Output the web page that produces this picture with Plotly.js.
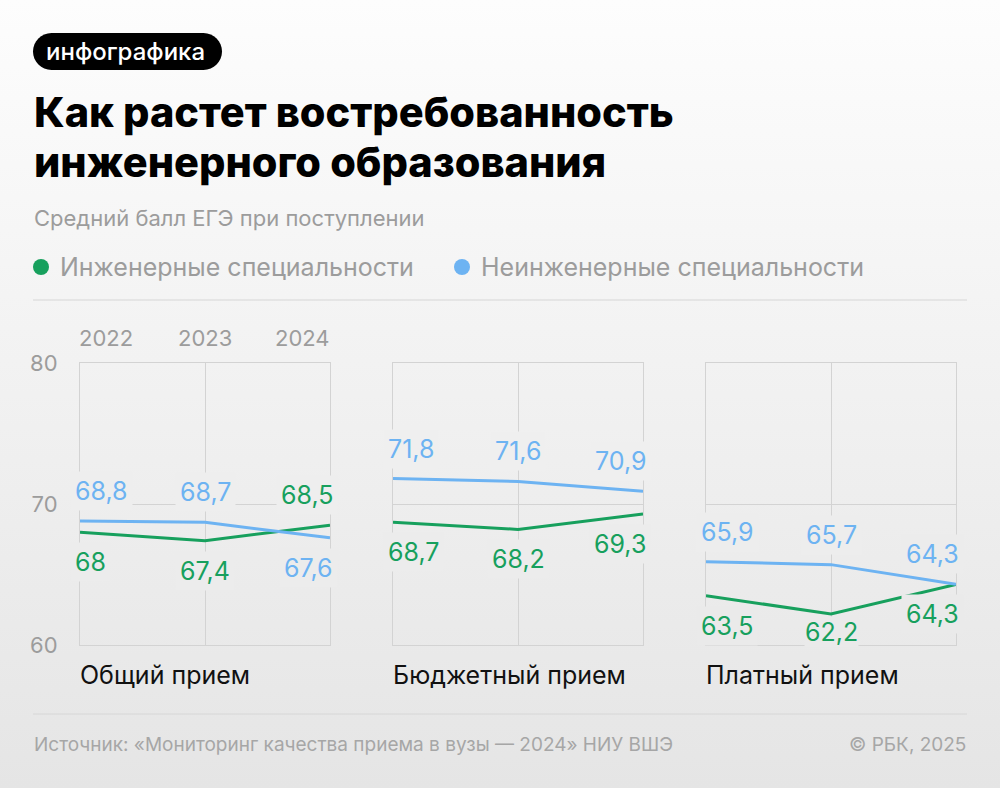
<!DOCTYPE html>
<html>
<head>
<meta charset="utf-8">
<script src="https://cdn.plot.ly/plotly-3.0.1.min.js"></script>
<style>
html,body{margin:0;padding:0;}
body{width:1000px;height:788px;background:linear-gradient(180deg,#fdfdfd 0px,#e5e5e5 788px);}
#chart{width:1000px;height:788px;}
</style>
</head>
<body>
<div id="chart"></div>
<script>
// ---- data ----
const years = ['2022', '2023', '2024'];
const panelNames = ['Общий прием', 'Бюджетный прием', 'Платный прием'];
const engTotal = [68, 67.4, 68.5];
const nonEngTotal = [68.8, 68.7, 67.6];
const engBudget = [68.7, 68.2, 69.3];
const nonEngBudget = [71.8, 71.6, 70.9];
const engPaid = [63.5, 62.2, 64.3];
const nonEngPaid = [65.9, 65.7, 64.3];
const yTicks = [60, 70, 80];
const seriesNames = ['Инженерные специальности', 'Неинженерные специальности'];
const tagText = 'инфографика';
const titleLines = ['Как растет востребованность', 'инженерного образования'];
const subtitleText = 'Средний балл ЕГЭ при поступлении';
const sourceText = 'Источник: «Мониторинг качества приема в вузы — 2024» НИУ ВШЭ';
const creditText = '© РБК, 2025';

// ---- styling ----
const W = 1000, H = 788;
const px = x => x / W;
const py = y => 1 - y / H;
const GREEN = '#17a05d';
const BLUE = '#6db3f2';
const GRID = '#d3d3d3';
const GREY = '#9c9c9c';
const FONT = 'Inter, "Noto Sans", sans-serif';
const TOP_PX = 363, BOT_PX = 645, YMIN = 60, YMAX = 80;
const PX_PER_UNIT = (BOT_PX - TOP_PX) / (YMAX - YMIN);

// background colour at a given pixel row (matches the CSS gradient)
function bgAt(yPx) {
  const t = Math.max(0, Math.min(1, yPx / H));
  const c = Math.round(0xfd + (0xe5 - 0xfd) * t);
  return 'rgb(' + c + ',' + c + ',' + c + ')';
}

const eng = [engTotal, engBudget, engPaid];
const nonEng = [nonEngTotal, nonEngBudget, nonEngPaid];
const domainsPx = [[80, 330], [393, 643], [706, 956]];
const yDomain = [py(BOT_PX), py(TOP_PX)];

const fmt = v => String(v).replace('.', ',');

const traces = [];
const annotations = [];
const layout = {
  width: W, height: H,
  margin: {l: 0, r: 0, t: 0, b: 0},
  paper_bgcolor: 'rgba(0,0,0,0)',
  plot_bgcolor: 'rgba(0,0,0,0)',
  showlegend: false,
  font: {family: FONT},
  shapes: [],
  annotations: annotations
};

for (let p = 0; p < 3; p++) {
  const suffix = p === 0 ? '' : String(p + 1);
  const xa = 'x' + suffix, ya = 'y' + suffix;
  layout['xaxis' + suffix] = {
    domain: [px(domainsPx[p][0]), px(domainsPx[p][1])],
    anchor: ya,
    type: 'category',
    categoryorder: 'array', categoryarray: years,
    range: [0, 2],
    showgrid: true, gridcolor: GRID, gridwidth: 1,
    showline: true, mirror: true, linecolor: GRID, linewidth: 1,
    showticklabels: false, ticks: '', zeroline: false, fixedrange: true
  };
  layout['yaxis' + suffix] = {
    domain: yDomain,
    anchor: xa,
    range: [YMIN, YMAX],
    tickvals: yTicks,
    ticktext: yTicks.map(String),
    showgrid: true, gridcolor: GRID, gridwidth: 1,
    showline: true, mirror: true, linecolor: GRID, linewidth: 1,
    showticklabels: p === 0,
    ticks: '', ticklabelstandoff: 17,
    tickfont: {family: FONT, size: 22, color: GREY},
    zeroline: false, fixedrange: true
  };
  traces.push({
    x: years, y: eng[p], xaxis: xa, yaxis: ya, type: 'scatter', mode: 'lines',
    name: seriesNames[0], line: {color: GREEN, width: 3}, hoverinfo: 'skip'
  });
  traces.push({
    x: years, y: nonEng[p], xaxis: xa, yaxis: ya, type: 'scatter', mode: 'lines',
    name: seriesNames[1], line: {color: BLUE, width: 3}, hoverinfo: 'skip'
  });
  // value labels (x given as category serial number)
  const anchors = ['left', 'center', 'right'];
  const xshifts = [-10, 0, 8];
  for (let i = 0; i < years.length; i++) {
    const blueAbove = nonEng[p][i] >= eng[p][i];
    const pairs = [[eng[p][i], GREEN, !blueAbove], [nonEng[p][i], BLUE, blueAbove]];
    pairs.forEach(([v, c, above]) => {
      let shift, pad = 4;
      if (above) shift = 30;
      else {
        const room = (v - YMIN) * PX_PER_UNIT - 13;
        if (room < 30) { shift = -room; pad = 0; } else shift = -30;
      }
      const yPx = BOT_PX - (v - YMIN) * PX_PER_UNIT - shift;
      annotations.push({
        xref: xa, yref: ya, x: i, y: v, text: fmt(v), showarrow: false,
        xanchor: anchors[i], yanchor: 'middle', xshift: xshifts[i] + (pad === 0 ? (i === 0 ? 4 : (i === 2 ? -4 : 0)) : 0), yshift: shift,
        font: {family: FONT, size: 25, color: c}, bgcolor: bgAt(yPx), borderpad: pad
      });
    });
  }
  // panel name
  annotations.push({
    xref: 'paper', yref: 'paper', x: px(domainsPx[p][0] - 2), y: py(675), text: panelNames[p],
    showarrow: false, xanchor: 'left', yanchor: 'middle',
    font: {family: FONT, size: 25, color: '#111111'}
  });
}

// year labels on top of first panel
const yearAnchors = ['left', 'center', 'right'];
years.forEach((yr, i) => {
  annotations.push({
    xref: 'x', yref: 'paper', x: i, y: py(338), text: yr, showarrow: false,
    xanchor: yearAnchors[i], yanchor: 'middle', xshift: i === 0 ? -3 : (i === 2 ? 2 : 0),
    font: {family: FONT, size: 22, color: GREY}
  });
});

// tag pill
(function () {
  const x0 = 33, x1 = 222, y0 = 33, y1 = 70, r = 18.5, k = 0.5523 * r;
  const P = (x, y) => px(x) + ',' + py(y);
  const path = 'M ' + P(x0 + r, y0) + ' L ' + P(x1 - r, y0) +
    ' C ' + P(x1 - r + k, y0) + ' ' + P(x1, y0 + r - k) + ' ' + P(x1, y0 + r) +
    ' C ' + P(x1, y1 - r + k) + ' ' + P(x1 - r + k, y1) + ' ' + P(x1 - r, y1) +
    ' L ' + P(x0 + r, y1) +
    ' C ' + P(x0 + r - k, y1) + ' ' + P(x0, y1 - r + k) + ' ' + P(x0, y1 - r) +
    ' C ' + P(x0, y0 + r - k) + ' ' + P(x0 + r - k, y0) + ' ' + P(x0 + r, y0) + ' Z';
  layout.shapes.push({type: 'path', xref: 'paper', yref: 'paper', path: path, fillcolor: '#000000', line: {width: 0}});
})();
annotations.push({
  xref: 'paper', yref: 'paper', x: px(125), y: py(51), text: tagText, showarrow: false,
  xanchor: 'center', yanchor: 'middle', font: {family: FONT, size: 24, color: '#ffffff', weight: 500}
});

// title
titleLines.forEach((t, i) => {
  annotations.push({
    xref: 'paper', yref: 'paper', x: px(32), y: py(112 + i * 50), text: t, showarrow: false,
    xanchor: 'left', yanchor: 'middle', font: {family: FONT, size: 41.5, color: '#000000', weight: 800}
  });
});
// subtitle
annotations.push({
  xref: 'paper', yref: 'paper', x: px(32), y: py(218), text: subtitleText, showarrow: false,
  xanchor: 'left', yanchor: 'middle', font: {family: FONT, size: 22, color: GREY}
});
// legend
const legendX = [[41, 58], [462, 479]];
[GREEN, BLUE].forEach((c, i) => {
  layout.shapes.push({
    type: 'circle', xref: 'paper', yref: 'paper',
    x0: px(legendX[i][0] - 8), x1: px(legendX[i][0] + 8), y0: py(267 + 8), y1: py(267 - 8),
    fillcolor: c, line: {width: 0}
  });
  annotations.push({
    xref: 'paper', yref: 'paper', x: px(legendX[i][1]), y: py(267), text: seriesNames[i], showarrow: false,
    xanchor: 'left', yanchor: 'middle', font: {family: FONT, size: 25, color: GREY}
  });
});
// separators
[300, 714].forEach(y => {
  layout.shapes.push({type: 'line', xref: 'paper', yref: 'paper', x0: px(33), x1: px(967), y0: py(y), y1: py(y), line: {color: '#d6d6d6', width: 1}});
});
// footer
annotations.push({
  xref: 'paper', yref: 'paper', x: px(32), y: py(744), text: sourceText, showarrow: false,
  xanchor: 'left', yanchor: 'middle', font: {family: FONT, size: 19, color: '#a6a6a6'}
});
annotations.push({
  xref: 'paper', yref: 'paper', x: px(968), y: py(744), text: creditText, showarrow: false,
  xanchor: 'right', yanchor: 'middle', font: {family: FONT, size: 19, color: '#a6a6a6'}
});

Plotly.newPlot('chart', traces, layout, {staticPlot: true, displayModeBar: false});
</script>
</body>
</html>
